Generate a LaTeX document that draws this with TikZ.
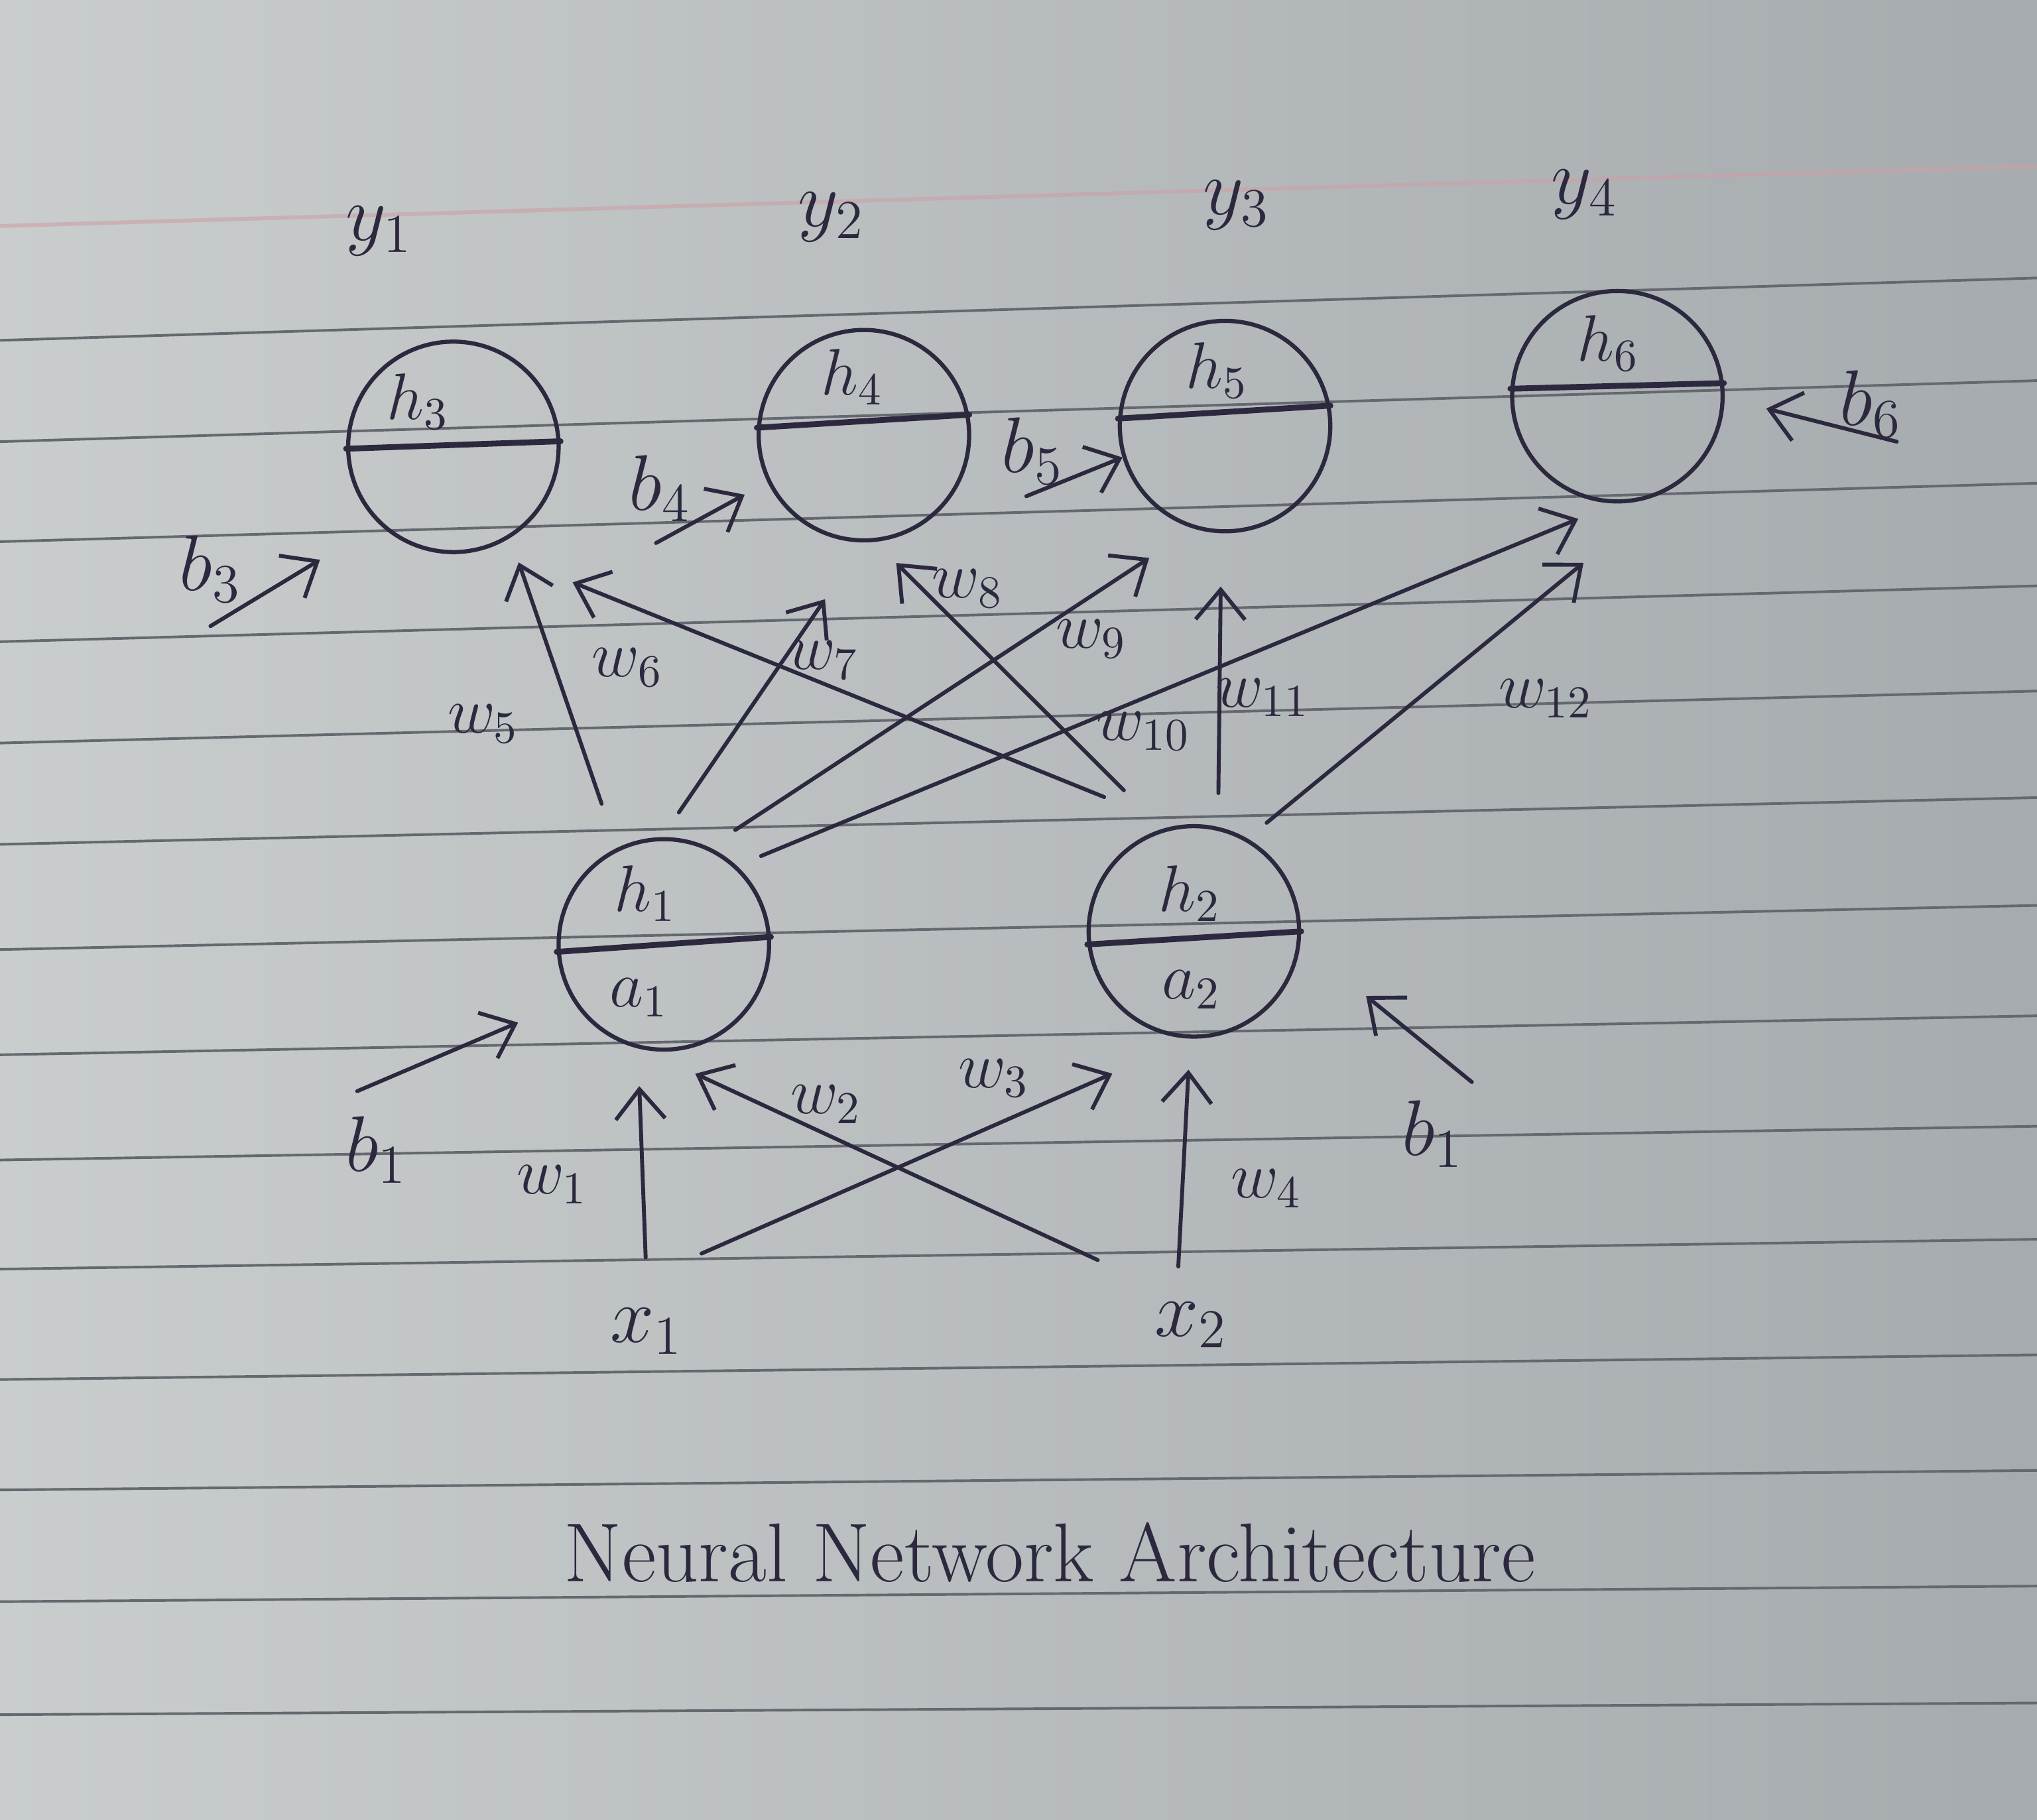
\documentclass[tikz,border=0pt]{standalone}
\usepackage{amsmath}
\usepackage{amssymb}
\usepackage{tikz}
\usetikzlibrary{arrows.meta}
\usetikzlibrary{positioning}
\usetikzlibrary{calc, shapes, backgrounds}

\definecolor{ink}{RGB}{44,40,62}
\definecolor{paperL}{RGB}{201,205,205}
\definecolor{paperR}{RGB}{166,171,175}
\definecolor{ruling}{RGB}{100,105,112}
\definecolor{marginpink}{RGB}{205,160,168}

\begin{document}
\begin{tikzpicture}[x=0.1mm,y=-0.1mm]
\tikzstyle{neuron}=[circle,draw=ink,line width=0.32mm,minimum size=16.2mm,inner sep=0]
\tikzstyle{part lbl}=[text=ink,inner sep=1pt,font=\Large]
\tikzstyle{out lbl}=[text=ink,inner sep=1pt,font=\LARGE]
\tikzstyle{wt lbl}=[text=ink,inner sep=1pt,font=\Large]
\tikzset{
  wire/.style = {color=ink,line width=0.3mm,line cap=round,line join=round,
                 -{Straight Barb[length=2.3mm,width=3.8mm]}},
  divider/.style = {draw=ink,line width=0.45mm,line cap=round},
  ruled line/.style = {draw=ruling,line width=0.2mm}
}

\useasboundingbox (0,0) rectangle (1568,1401);
% paper
\shade[left color=paperL,right color=paperR] (0,0) rectangle (1568,1401);
\draw[marginpink,line width=0.3mm,opacity=0.6] (0,174) -- (1568,128);
\foreach \l/\r in {262/214,340/293,417/372,494/451,572/532,650/614,731/697,
                   812/782,893/867,977/954,1062/1043,1147/1132,1233/1221,1320/1311}
  \draw[ruled line] (0,\l) -- (1568,\r);

% output layer
    \node[neuron] (h3) at (349,344) {};
    \node[neuron] (h4) at (665,335) {};
    \node[neuron] (h5) at (943,328) {};
    \node[neuron] (h6) at (1245,305) {};
% hidden layer
    \node[neuron] (h1) at (511,727) {};
    \node[neuron] (h2) at (919,717) {};

    \draw[divider] (h3.181) -- (h3.3);
    \draw[divider] (h4.176) -- (h4.11);
    \draw[divider] (h5.176) -- (h5.11);
    \draw[divider] (h6.176) -- (h6.7);
    \draw[divider] (h1.184) -- (h1.4);
    \draw[divider] (h2.187) -- (h2.0);

    \node[part lbl] (h3 up) at (322,309) {$h_3$};
    \node[part lbl] (h4 up) at (656,290) {$h_4$};
    \node[part lbl] (h5 up) at (937,285) {$h_5$};
    \node[part lbl] (h6 up) at (1238,264) {$h_6$};
    \node[part lbl] (h1 up) at (497,688) {$h_1$};
    \node[part lbl] (a1 low) at (492,768) {$a_1$};
    \node[part lbl] (h2 up) at (916,688) {$h_2$};
    \node[part lbl] (a2 low) at (917,762) {$a_2$};

    \node[out lbl] (y1) at (292,178) {$y_1$};
    \node[out lbl] (y2) at (640,167) {$y_2$};
    \node[out lbl] (y3) at (952,158) {$y_3$};
    \node[out lbl] (y4) at (1220,150) {$y_4$};

    \node[out lbl] (x1) at (498,1025) {$x_1$};
    \node[out lbl] (x2) at (917,1020) {$x_2$};

    %%%%%%%%%%%%%%%%%%%%%%%%%%
    \node[out lbl] (b3 lbl) at (162,438) {$b_3$};
    \node[out lbl] (b4 lbl) at (508,376) {$b_4$};
    \node[out lbl] (b5 lbl) at (795,347) {$b_5$};
    \node[out lbl] (b6 lbl) at (1440,311) {$b_6$};
    \node[out lbl] (b1 lbl) at (290,885) {$b_1$};
    \node[out lbl] (b1r lbl) at (1103,873) {$b_1$};

    \node[wt lbl] (w1 lbl) at (425,912) {$w_1$};
    \node[wt lbl] (w2 lbl) at (636,850) {$w_2$};
    \node[wt lbl] (w3 lbl) at (765,830) {$w_3$};
    \node[wt lbl] (w4 lbl) at (975,915) {$w_4$};
    \node[wt lbl] (w5 lbl) at (372,557) {$w_5$};
    \node[wt lbl] (w6 lbl) at (483,514) {$w_6$};
    \node[wt lbl] (w7 lbl) at (634,508) {$w_7$};
    \node[wt lbl] (w8 lbl) at (745,453) {$w_8$};
    \node[wt lbl] (w9 lbl) at (840,492) {$w_9$};
    \node[wt lbl] (w10 lbl) at (880,563) {$w_{10}$};
    \node[wt lbl] (w11 lbl) at (972,537) {$w_{11}$};
    \node[wt lbl] (w12 lbl) at (1190,538) {$w_{12}$};

    \node[text=ink,font=\fontsize{18.3}{22}\selectfont] (title) at (808,1195) {Neural Network Architecture};

    % loose tails
    \coordinate (w1 tail) at (497,968);
    \coordinate (w3 tail) at (540,965);
    \coordinate (w2 tail) at (845,970);
    \coordinate (w4 tail) at (907,975);
    \coordinate (b3 tail) at (162,482);
    \coordinate (b4 tail) at (505,418);
    \coordinate (b5 tail) at (790,382);
    \coordinate (b6 tail) at (1460,340);
    \coordinate (b1 tail) at (275,840);
    \coordinate (b1r tail) at (1133,833);

    \path[wire]
        (w1 tail) edge[shorten >=2.9mm] (h1.256)
        (w2 tail) edge[shorten >=4.4mm] (h1.259)
        (w3 tail) edge[shorten >=6.7mm] (h2.269)
        (w4 tail) edge[shorten >=2.4mm] (h2.268)
        (b1 tail) edge[shorten >=4.5mm] (h1.211)
        (b1r tail) edge[shorten >=6.5mm] (h2.354)
        %%%%%%%%%%%%%%%%%%%%%%%%%%%
        (h1.116) edge[shorten <=3.6mm, shorten >=2.0mm] (h3.302)
        (h2.100) edge[shorten <=5.9mm, shorten >=7.0mm] (h3.289)
        (h1.91)  edge[shorten <=2.3mm, shorten >=5.3mm] (h4.270)
        (h2.107) edge[shorten <=4.2mm, shorten >=2.3mm] (h4.276)
        (h1.65)  edge[shorten <=2.4mm, shorten >=4.1mm] (h5.253)
        (h1.47)  edge[shorten <=2.0mm, shorten >=3.1mm] (h6.269)
        (h2.77)  edge[shorten <=2.6mm, shorten >=4.1mm] (h5.268)
        (h2.60)  edge[shorten <=1.9mm, shorten >=10.1mm] (h6.309)
        %%%%%%%%%%%%%%%%%%%%%%%%%%%
        (b3 tail) edge[shorten >=5.3mm] (h3.226)
        (b4 tail) edge[shorten >=2.0mm] (h4.206)
        (b5 tail) edge (h5.197)
        (b6 tail) edge[shorten >=3.3mm] (h6.359)
;
\end{tikzpicture}
\end{document}
